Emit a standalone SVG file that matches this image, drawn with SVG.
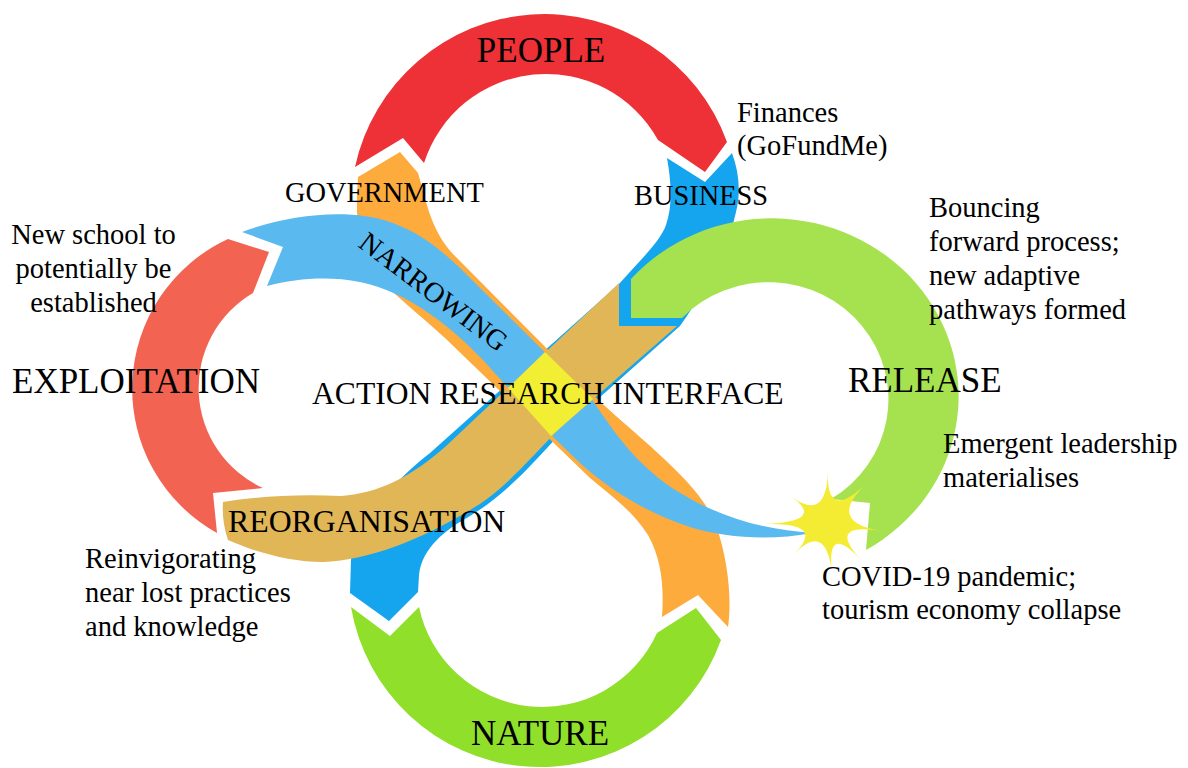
<svg xmlns="http://www.w3.org/2000/svg" width="1188" height="768" viewBox="0 0 1188 768" font-family="'Liberation Serif', 'Times New Roman', serif">
  <style>
    text { font-family: "Liberation Serif", "Times New Roman", serif; fill: #000; }
    .phase { font-size: 35px; }
    .sector { font-size: 28.4px; }
    .note { font-size: 28.5px; }
    .band { stroke: none; }
  </style>
  <rect width="1188" height="768" fill="#fff"/>

  <!-- lower layer: business and government bands run under the crossing bands -->
  <g id="business">
    <path class="band" fill="#14A5EE" d="M667,158 L705,182 L732,153 C739,172 741,192 736,212 C728,250 702,295 680,326 L563,430 C535,462 505,495 470,516 C445,530 422,548 419,575 L418,592 L389,621 L350,593 L351,560 C354,530 385,488 430,453 L619,284 C640,260 660,242 666,225 C673,205 671,180 667,158 Z"/>
  </g>
  <g id="government">
    <path class="band" fill="#FCAB3C" d="M400,152 L418,173 C426,200 430,228 452,253 L590,392 C640,440 700,482 716,525 C728,560 732,598 728,627 L698,595 L662,617 C664,588 662,560 648,535 C632,510 610,495 590,478 L445,338 C412,308 388,290 370,268 C358,250 355,215 358,177 Z"/>
  </g>

  <!-- outer loops -->
  <g id="people">
    <path class="band" fill="#EE3136" d="M355,167 A194,194 0 0 1 727,142 L705,172 L658,140 A128,128 0 0 0 424,163 L403,138 Z"/>
    <text x="541" y="62" class="phase" text-anchor="middle">PEOPLE</text>
  </g>
  <g id="nature">
    <path class="band" fill="#90DF2A" d="M351,607 L390,636 L419,607 A126,126 0 0 0 657,633 L696,608 L721,640 A192,192 0 0 1 351,607 Z"/>
    <text x="540" y="745" class="phase" text-anchor="middle">NATURE</text>
  </g>

  <!-- crossing bands -->
  <g id="narrowing">
    <path class="band" fill="#5AB9EF" d="M242,232 C290,214 350,208 390,222 C425,234 450,258 470,278 L590,397 C607,420 632,465 682,494 C725,520 770,530 812,533 C770,541 725,538 690,527 C650,514 612,492 580,463 L548,432 L483,360 C450,326 410,293 360,282 C330,276 297,278 267,286 L283,247 Z"/>
    <text x="357" y="246" transform="rotate(37 357 246)" style="font-size:28.5px">NARROWING</text>
  </g>
  <g id="reorganisation">
    <path class="band" fill="#E1B657" d="M223,502 C260,496 300,494 341,496 C380,493 412,476 445,447 L619,283 L619,326 L677,326 L560,428 C530,458 505,490 470,510 C420,540 370,560 323,562 C290,562 255,552 228,540 C224,528 222,515 223,502 Z"/>
  </g>
  <g id="interface">
    <polygon fill="#F2EE33" points="545,352 593,399 551,436 508,388"/>
  </g>

  <!-- side loops -->
  <g id="exploitation">
    <path class="band" fill="#F26351" d="M263,488 L213,493 L217,533 A165,165 0 0 1 228,239 L269,252 L253,293 A110,110 0 0 0 263,488 Z"/>
  </g>
  <g id="release">
    <path class="band" fill="#A6E24F" d="M631,279 L631,318 L682,318 A120,117 0 1 1 831,499 L870,503 L866,550 A187,178 0 1 0 631,279 Z"/>
  </g>

  <!-- shock event -->
  <g id="covid-shock">
    <path fill="#F4EC33" d="M828,472 Q826,522 866,484 Q826,522 881,531 Q826,522 861,560 Q826,522 832,573 Q826,522 795,553 Q826,522 764,524 Q826,522 792,497 Q826,522 828,472 Z"/>
  </g>

  <!-- labels -->
  <g id="labels">
    <text x="285" y="202" class="sector">GOVERNMENT</text>
    <text x="634" y="205" class="sector">BUSINESS</text>
    <text x="12" y="393" class="phase">EXPLOITATION</text>
    <text x="848" y="392" class="phase">RELEASE</text>
    <text x="312" y="404" style="font-size:31.6px">ACTION RESEARCH INTERFACE</text>
    <text x="228" y="532" style="font-size:31.8px">REORGANISATION</text>
  </g>

  <g id="notes">
    <text x="737" y="122" class="note">Finances</text>
    <text x="737" y="155" class="note">(GoFundMe)</text>

    <text x="929" y="217" class="note">Bouncing</text>
    <text x="929" y="251" class="note">forward process;</text>
    <text x="929" y="285" class="note">new adaptive</text>
    <text x="929" y="319" class="note">pathways formed</text>

    <text x="93.5" y="244" class="note" text-anchor="middle">New school to</text>
    <text x="93.5" y="278" class="note" text-anchor="middle">potentially be</text>
    <text x="93.5" y="312" class="note" text-anchor="middle">established</text>

    <text x="943" y="453" class="note">Emergent leadership</text>
    <text x="943" y="487" class="note">materialises</text>

    <text x="85" y="568" class="note">Reinvigorating</text>
    <text x="85" y="602" class="note">near lost practices</text>
    <text x="85" y="636" class="note">and knowledge</text>

    <text x="822" y="586" class="note">COVID-19 pandemic;</text>
    <text x="822" y="619" class="note">tourism economy collapse</text>
  </g>
</svg>
